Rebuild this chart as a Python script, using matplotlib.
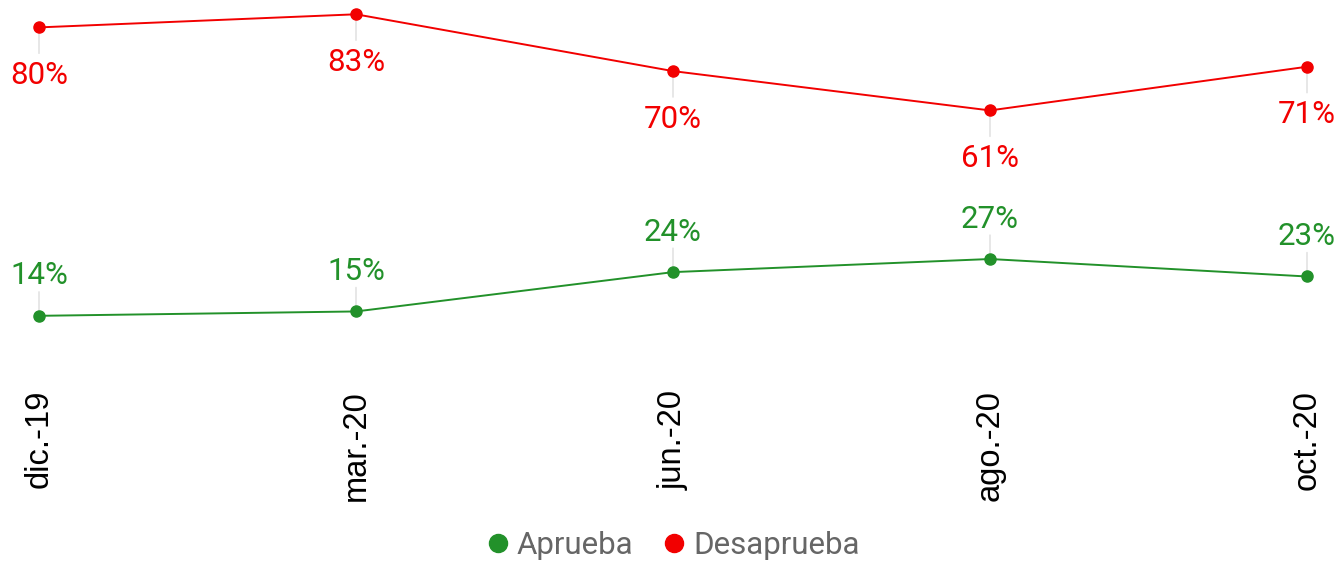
import matplotlib
matplotlib.use("Agg")
import matplotlib.pyplot as plt
from matplotlib.lines import Line2D

categories = ["dic.-19", "mar.-20", "jun.-20", "ago.-20", "oct.-20"]
aprueba = [14, 15, 24, 27, 23]
desaprueba = [80, 83, 70, 61, 71]

GREEN = "#22912a"
RED = "#f20000"
LEADER = "#dddddd"

W, H = 1342, 563
fig = plt.figure(figsize=(W / 100, H / 100), dpi=100)
# axes: x from 39 to 1307 px, y zero at 377 px, scale 4.37 px/unit
x0, x1 = 39, 1307
y_zero = 377
top_px = 5
ymax = (y_zero - top_px) / 4.37
ax = fig.add_axes([x0 / W, (H - y_zero) / H, (x1 - x0) / W, (y_zero - top_px) / H])
ax.set_xlim(0, len(categories) - 1)
ax.set_ylim(0, ymax)
ax.axis("off")

xs = list(range(len(categories)))

ax.plot(xs, aprueba, color=GREEN, lw=1.4, marker="o", ms=8, zorder=3, clip_on=False)
ax.plot(xs, desaprueba, color=RED, lw=1.4, marker="o", ms=8, zorder=3, clip_on=False)

for x, v in zip(xs, desaprueba):
    ax.annotate("", xy=(x, v), xytext=(0, -26), textcoords="offset pixels",
                arrowprops=dict(arrowstyle="-", color=LEADER, lw=1, shrinkA=0, shrinkB=0), zorder=1)
    ax.annotate(f"{v}%", xy=(x, v), xytext=(0, -48), textcoords="offset pixels",
                ha="center", va="center", fontsize=22.5, color=RED, family="Roboto")

for x, v in zip(xs, aprueba):
    ax.annotate("", xy=(x, v), xytext=(0, 24), textcoords="offset pixels",
                arrowprops=dict(arrowstyle="-", color=LEADER, lw=1, shrinkA=0, shrinkB=0), zorder=1)
    ax.annotate(f"{v}%", xy=(x, v), xytext=(0, 40), textcoords="offset pixels",
                ha="center", va="center", fontsize=22.5, color=GREEN, family="Roboto")

# x tick labels (rotated)
for x, c in zip(xs, categories):
    ax.annotate(c, xy=(x, 0), xytext=(0, -13), textcoords="offset pixels",
                ha="center", va="top", rotation=90, fontsize=23.5, color="black",
                family="Liberation Sans")

handles = [
    Line2D([], [], ls="none", marker="o", ms=13, color=GREEN, label="Aprueba"),
    Line2D([], [], ls="none", marker="o", ms=13, color=RED, label="Desaprueba"),
]
leg = fig.legend(handles=handles, loc="center", bbox_to_anchor=(0.5, (H - 545) / H),
                 ncol=2, frameon=False, handletextpad=0.1, columnspacing=0.8,
                 handlelength=1.0, prop={"family": "Roboto", "size": 22.5})
for t in leg.get_texts():
    t.set_color("#666666")

fig.savefig("out.png", dpi=100)
